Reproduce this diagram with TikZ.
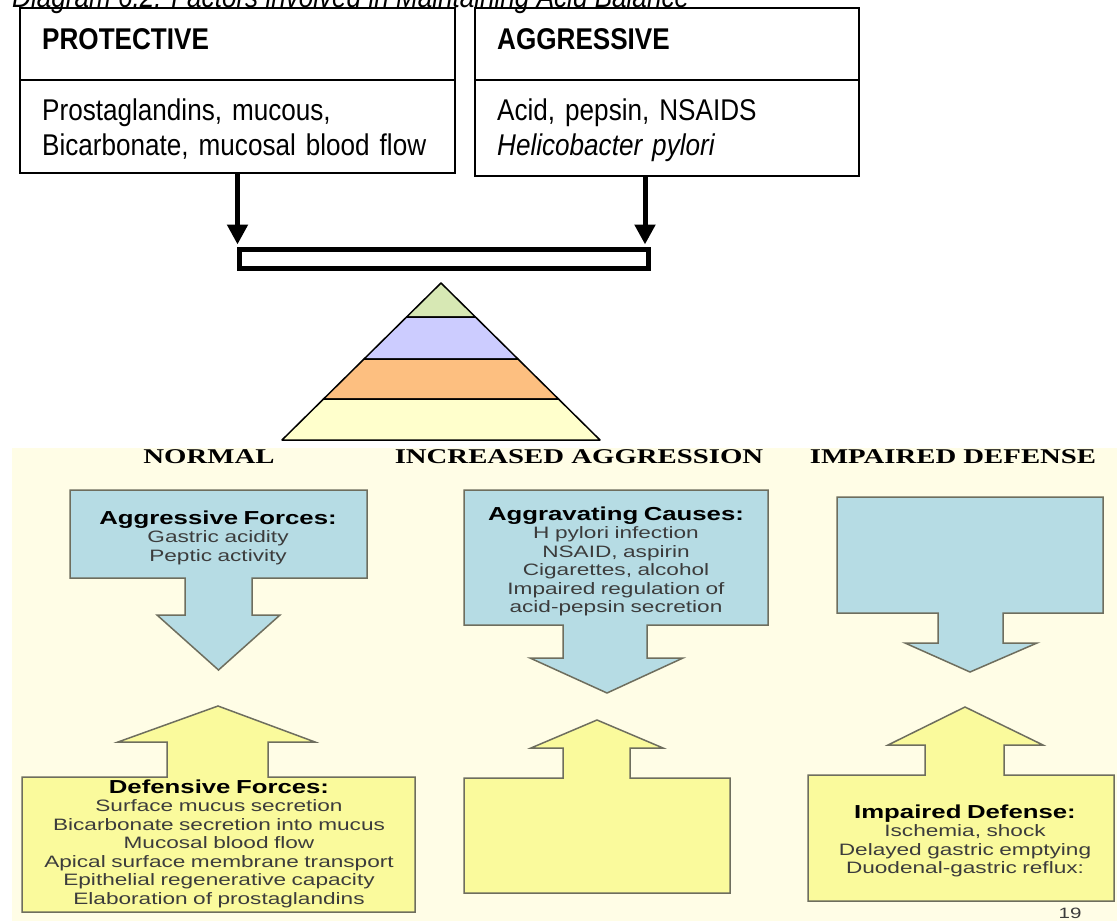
\documentclass[tikz,border=0pt]{standalone}
\usepackage{fontspec}
\setmainfont{Liberation Sans}
\newfontfamily\topfont[FakeStretch=0.87]{Liberation Sans}
\newfontfamily\panelfont[FakeStretch=1.37]{Liberation Sans}
\newfontfamily\headfont[FakeStretch=1.37]{Liberation Serif}
\definecolor{panelbg}{HTML}{FFFDE6}
\definecolor{arrowblue}{HTML}{B6DCE4}
\definecolor{arrowyellow}{HTML}{FAFA9C}
\definecolor{arrowline}{HTML}{6E6E5E}
\definecolor{bodygray}{HTML}{3C3C3C}
\definecolor{pygreen}{HTML}{D7E8B4}
\definecolor{pylav}{HTML}{CCCCFF}
\definecolor{pyorange}{HTML}{FDBF80}
\definecolor{pyyellow}{HTML}{FFFFCC}
\usetikzlibrary{arrows.meta, positioning}

\begin{document}
\begin{tikzpicture}[x=1pt, y=-1pt,
    topbox/.style={draw, line width=1.5pt, inner sep=0pt},
    toptext/.style={font=\topfont\fontsize{30}{35}\selectfont, inner sep=0pt, anchor=base west},
    blkarrow/.style={line width=5pt, -{Triangle[width=20pt, length=20pt]}, shorten >=2.5pt},
    bluearrow/.style={fill=arrowblue, draw=arrowline, line width=1.5pt, line join=miter},
    yellowarrow/.style={fill=arrowyellow, draw=arrowline, line width=1.5pt, line join=miter},
    headtext/.style={font=\headfont\bfseries\fontsize{21}{21}\selectfont, inner sep=0pt, anchor=base},
    paneltext/.style={font=\panelfont\fontsize{16.5}{18.5}\selectfont, text=bodygray,
        text width=380pt, align=center, inner sep=0pt, anchor=base}]
    \clip (0,0) rectangle (1117,921);

    % caption (cut off at the top)
    \node[toptext, font=\topfont\itshape\fontsize{30}{35}\selectfont] (cap) at (12,7)
        {Diagram 6.2: Factors involved in Maintaining Acid Balance};

    % two factor boxes
    \node[topbox, minimum width=435pt, minimum height=165pt] (prot) at (237.5,90.5) {};
    \node[topbox, minimum width=384pt, minimum height=168pt] (aggr) at (667,92) {};
    \draw[line width=1.5pt] (prot.west |- 0,80) -- (prot.east |- 0,80);
    \draw[line width=1.5pt] (aggr.west |- 0,80) -- (aggr.east |- 0,80);
    \node[toptext] (protT) at (42,49) {\bfseries PROTECTIVE};
    \node[toptext, text width=400pt, align=left] (protB) at (42,120)
        {Prostaglandins, mucous,\\Bicarbonate, mucosal blood flow};
    \node[toptext] (aggrT) at (497,49) {\bfseries AGGRESSIVE};
    \node[toptext, text width=340pt, align=left] (aggrB) at (497,120)
        {Acid, pepsin, NSAIDS\\\itshape Helicobacter pylori};

    % balance bar
    \node[draw, fill=white, line width=5pt, inner sep=0pt, minimum width=409pt,
        minimum height=19pt] (bar) at (444,259) {};
    \coordinate (aggrOut) at (aggr.south -| 645,0);
    \draw[blkarrow] (prot.south) -- (prot.south |- bar.north);
    \draw[blkarrow] (aggrOut) -- (aggrOut |- bar.north);

    % pyramid
    \foreach \ya/\yb/\col in {283/317/pygreen, 317/359/pylav, 359/399/pyorange, 399/440/pyyellow}
        \filldraw[fill=\col, draw=black, line width=1.5pt, line join=round]
            ({441-1.0127*(\ya-283)},\ya) -- ({441+1.0127*(\ya-283)},\ya)
            -- ({441+1.0127*(\yb-283)},\yb) -- ({441-1.0127*(\yb-283)},\yb) -- cycle;

    % slide panel
    \fill[panelbg] (12,448) rectangle (1117,921);
    \node[headtext] (hNormal) at (209,463) {NORMAL};
    \node[headtext] (hIncr) at (579,463) {INCREASED AGGRESSION};
    \node[headtext] (hImp) at (953,463) {IMPAIRED DEFENSE};

    % aggressive side (down arrows)
    \draw[bluearrow] (70,490) -- (367,490) -- (367,578) -- (252,578) -- (252,615) -- (280,615)
        -- (218.5,670) -- (157,615) -- (185,615) -- (185,578) -- (70,578) -- cycle;
    \draw[bluearrow] (464,490) -- (768,490) -- (768,625) -- (647,625) -- (647,658) -- (683,658)
        -- (607,693) -- (530,658) -- (563,658) -- (563,625) -- (464,625) -- cycle;
    \draw[bluearrow] (837,497) -- (1103,497) -- (1103,613) -- (1003,613) -- (1003,643) -- (1037,643)
        -- (970,672) -- (905,643) -- (938,643) -- (938,613) -- (837,613) -- cycle;

    % defensive side (up arrows)
    \draw[yellowarrow] (22,912) -- (22,777) -- (167,777) -- (167,742) -- (118,742) -- (218,706)
        -- (315,742) -- (268,742) -- (268,777) -- (415,777) -- (415,912) -- cycle;
    \draw[yellowarrow] (464,893) -- (464,778) -- (563,778) -- (563,748) -- (531,748) -- (597,720)
        -- (663,748) -- (630,748) -- (630,778) -- (730,778) -- (730,893) -- cycle;
    \draw[yellowarrow] (808,901) -- (808,775) -- (925,775) -- (925,745) -- (888,745) -- (965,707)
        -- (1043,745) -- (1004,745) -- (1004,775) -- (1114,775) -- (1114,901) -- cycle;

    \node[paneltext] (aggF) at (218,524)
        {{\fontsize{18.8}{18.5}\selectfont\bfseries\color{black}Aggressive Forces:}\\
         Gastric acidity\\Peptic activity};
    \node[paneltext] (aggC) at (616,520)
        {{\fontsize{18.8}{18.5}\selectfont\bfseries\color{black}Aggravating Causes:}\\
         H pylori infection\\NSAID, aspirin\\Cigarettes, alcohol\\
         Impaired regulation of\\acid-pepsin secretion};
    \node[paneltext] (defF) at (219,793)
        {{\fontsize{18.8}{18.5}\selectfont\bfseries\color{black}Defensive Forces:}\\
         Surface mucus secretion\\Bicarbonate secretion into mucus\\Mucosal blood flow\\
         Apical surface membrane transport\\Epithelial regenerative capacity\\
         Elaboration of prostaglandins};
    \node[paneltext] (impD) at (965,818)
        {{\fontsize{18.8}{18.5}\selectfont\bfseries\color{black}Impaired Defense:}\\
         Ischemia, shock\\Delayed gastric emptying\\Duodenal-gastric reflux:};
    \node[font=\panelfont\fontsize{15}{15}\selectfont, text=bodygray, inner sep=0pt,
        anchor=base] (pgno) at (1070,918) {19};
\end{tikzpicture}
\end{document}
